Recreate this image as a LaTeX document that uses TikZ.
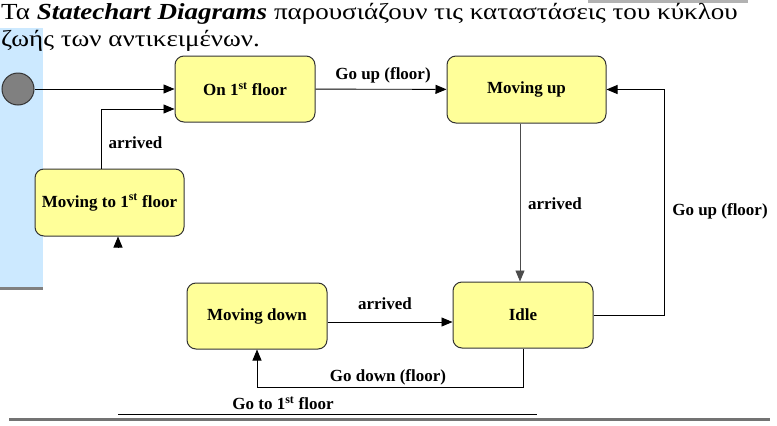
\documentclass[tikz,border=0pt]{standalone}
\usepackage{fontspec}
\setmainfont{Liberation Serif}
\usetikzlibrary{arrows.meta}
\definecolor{stateyellow}{HTML}{FFFF99}
\definecolor{slideblue}{HTML}{CCE9FF}
\tikzset{
	statebox/.style={draw=black!80,fill=stateyellow,rounded corners=9pt,line width=1pt,
		minimum width=140pt,minimum height=66pt,inner sep=2pt,font=\bfseries\fontsize{17}{18}\selectfont},
	lbl/.style={font=\bfseries\fontsize{17}{18}\selectfont,inner sep=1pt},
	titletext/.style={anchor=base west,inner sep=0pt,font=\fontsize{23}{27}\selectfont},
	trans/.style={->,line width=0.9pt}
}
\newcommand{\widetitle}[1]{\scalebox{1.175}[1]{#1}}
\begin{document}
\begin{tikzpicture}[x=1pt,y=-1pt,>={Triangle[length=11pt,width=9pt]}]
	\useasboundingbox (0,0) rectangle (777,426);
	\fill[slideblue] (0,28) rectangle (43,287);
	\fill[black!50] (0,287) rectangle (43,290);
	\fill[black!30] (588,0) rectangle (748,3);
	\fill[black!55] (9,418) rectangle (770,421);
	\draw[line width=1pt] (118,414.5) -- (537,414.5);
	\node[titletext] (t1) at (1,19)
		{\widetitle{Τα \textbf{\textit{Statechart Diagrams}} παρουσιάζουν τις καταστάσεις του κύκλου}};
	\node[titletext] (t2) at (1,46)
		{\widetitle{ζωής των αντικειμένων.}};
	\node[circle,draw=black!80,fill=black!50,line width=1pt,minimum size=32pt,inner sep=0pt] (init) at (18,89) {};
	\node[statebox] (on1) at (245,89) {On 1\textsuperscript{st} floor};
	\node[statebox,minimum width=159pt,minimum height=67pt] (up) at (526.5,89.5) {Moving up};
	\node[statebox,minimum width=149pt,minimum height=67pt] (to1) at (109.5,202.5) {Moving to 1\textsuperscript{st} floor};
	\node[statebox] (idle) at (523,315) {Idle};
	\node[statebox] (down) at (257,316) {Moving down};
	\coordinate (g1) at (118,248);
	\draw[trans] (init) -- (on1);
	\draw[trans] ([xshift=-8.5pt]to1.north) |- ([yshift=-20pt]on1.west);
	\draw[trans] (on1) -- (up);
	\draw[trans,draw=black!70] ([xshift=-6.5pt]up.south) -- ([xshift=-6.5pt]up.south |- idle.north);
	\draw[trans] (idle.east) -- ++(71,0) |- (up.east);
	\draw[trans] ([yshift=-6pt]down.east) -- ([yshift=-6pt]down.east -| idle.west);
	\draw[trans] (idle.south) -- ++(0,39) -| (down.south);
	\draw[trans] (g1) -- (g1 |- to1.south);
	\node[lbl] (l1) at (135.5,143) {arrived};
	\node[lbl] (l2) at (383,75) {Go up (floor)};
	\node[lbl] (l3) at (555,204) {arrived};
	\node[lbl] (l4) at (720,211) {Go up (floor)};
	\node[lbl] (l5) at (385,304) {arrived};
	\node[lbl] (l6) at (388,377) {Go down (floor)};
	\node[lbl] (l7) at (283,403) {Go to 1\textsuperscript{st} floor};
\end{tikzpicture}
\end{document}
